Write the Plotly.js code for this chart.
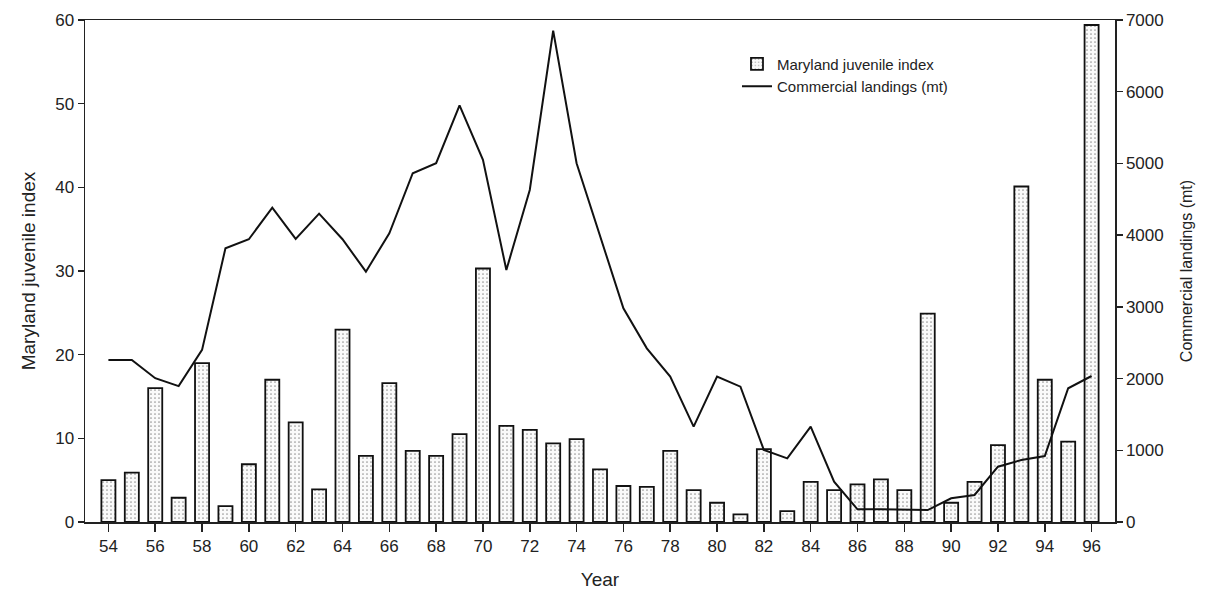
<!DOCTYPE html>
<html><head><meta charset="utf-8">
<script src="https://cdn.plot.ly/plotly-3.0.1.min.js"></script>
<style>body{margin:0;background:#fff}#chart{width:1219px;height:603px}</style>
</head><body><div id="chart"></div>
<script>
var years = [54,55,56,57,58,59,60,61,62,63,64,65,66,67,68,69,70,71,72,73,74,75,76,77,78,79,80,81,82,83,84,85,86,87,88,89,90,91,92,93,94,95,96];
var juvenileIndex = [5.0,5.9,16.0,2.9,19.0,1.9,6.9,17.0,11.9,3.9,23.0,7.9,16.6,8.5,7.9,10.5,30.3,11.5,11.0,9.4,9.9,6.3,4.3,4.2,8.5,3.8,2.3,0.9,8.7,1.3,4.8,3.8,4.5,5.1,3.8,24.9,2.3,4.8,9.2,40.1,17.0,9.6,59.4];
var landings = [2260,2260,2005,1895,2400,3817,3943,4384,3947,4300,3943,3491,4026,4863,5003,5810,5049,3515,4630,6852,5003,3980,2980,2422,2027,1330,2027,1887,1004,888,1330,562,177,177,167,167,330,377,771,865,920,1865,2036];
var xTicks = [54,56,58,60,62,64,66,68,70,72,74,76,78,80,82,84,86,88,90,92,94,96];
var leftTicks = [0,10,20,30,40,50,60];
var rightTicks = [0,1000,2000,3000,4000,5000,6000,7000];

var font = 'Liberation Sans, Arial, sans-serif';
var traces = [
  {type:'bar', x:years, y:juvenileIndex, name:'Maryland juvenile index', width:0.6,
   marker:{color:'#fafafa', line:{color:'#111', width:1.8},
           pattern:{shape:'.', fgcolor:'#999', bgcolor:'#fafafa', size:4, solidity:0.15}},
   yaxis:'y'},
  {type:'scatter', mode:'lines', x:years, y:landings, name:'Commercial landings (mt)',
   line:{color:'#111', width:2}, yaxis:'y2'}
];
var layout = {
  width:1219, height:603,
  margin:{l:85, r:104, t:20, b:81},
  paper_bgcolor:'#fff', plot_bgcolor:'#fff',
  font:{family:font, color:'#222', size:17},
  showlegend:true,
  legend:{x:0.633, y:0.945, xanchor:'left', yanchor:'top', bgcolor:'rgba(0,0,0,0)',
          font:{size:15, family:font}, tracegroupgap:0, itemwidth:30},
  bargap:0.4,
  xaxis:{range:[53,97], tickmode:'array', tickvals:xTicks, ticktext:xTicks.map(String),
         ticks:'outside', ticklen:8, tickwidth:1.5, tickcolor:'#222',
         showline:true, linecolor:'#222', linewidth:1.5, mirror:true,
         showgrid:false, zeroline:false, tickfont:{size:17},
         title:{text:'Year', font:{size:19}, standoff:18}},
  yaxis:{range:[0,60], tickmode:'array', tickvals:leftTicks,
         ticks:'outside', ticklen:6, tickwidth:1.5, tickcolor:'#222',
         showline:true, linecolor:'#222', linewidth:1.5,
         showgrid:false, zeroline:false, tickfont:{size:17},
         title:{text:'Maryland juvenile index', font:{size:19}, standoff:14}},
  yaxis2:{range:[0,7000], overlaying:'y', side:'right', tickmode:'array', tickvals:rightTicks,
          ticks:'outside', ticklen:6, tickwidth:1.5, tickcolor:'#222',
          showline:true, linecolor:'#222', linewidth:1.5,
          showgrid:false, zeroline:false, tickfont:{size:17},
          title:{text:'Commercial landings (mt)', font:{size:16}, standoff:18}}
};
Plotly.newPlot('chart', traces, layout, {displayModeBar:false, staticPlot:true});
</script></body></html>
